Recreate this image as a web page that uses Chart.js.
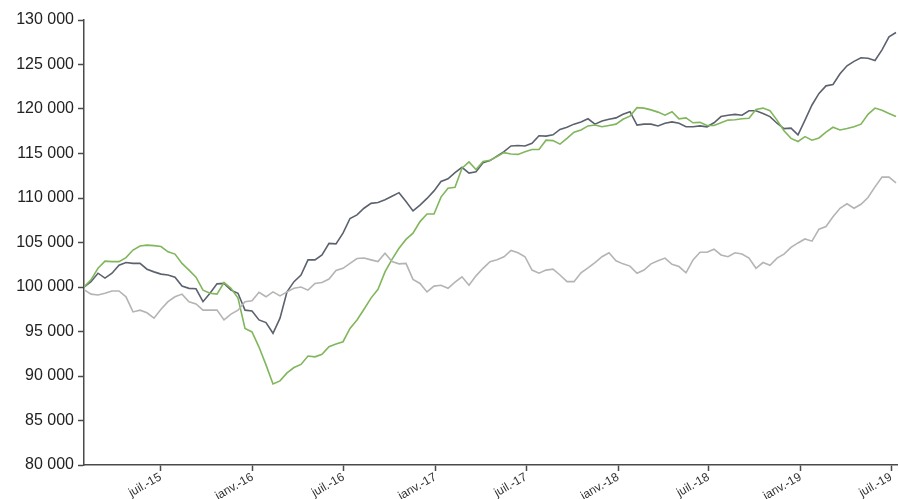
<!DOCTYPE html>
<html>
<head>
<meta charset="utf-8">
<title>Portefeuilles</title>
<script src="https://cdn.jsdelivr.net/npm/chart.js@4.4.1/dist/chart.umd.min.js"></script>
<style>
    html, body { margin: 0; padding: 0; background: #ffffff; }
    #wrap { position: relative; width: 899px; height: 499px; }
</style>
</head>
<body>
<div id="wrap"><canvas id="perfChart"></canvas></div>
<script>
// dates of the samples (every two weeks)
const dates = [
    "2015-01-29", "2015-02-12", "2015-02-26", "2015-03-12", "2015-03-26", "2015-04-09",
    "2015-04-23", "2015-05-07", "2015-05-21", "2015-06-04", "2015-06-18", "2015-07-02",
    "2015-07-16", "2015-07-30", "2015-08-13", "2015-08-27", "2015-09-10", "2015-09-24",
    "2015-10-08", "2015-10-22", "2015-11-05", "2015-11-19", "2015-12-03", "2015-12-17",
    "2015-12-31", "2016-01-14", "2016-01-28", "2016-02-11", "2016-02-25", "2016-03-10",
    "2016-03-24", "2016-04-07", "2016-04-21", "2016-05-05", "2016-05-19", "2016-06-02",
    "2016-06-16", "2016-06-30", "2016-07-14", "2016-07-28", "2016-08-11", "2016-08-25",
    "2016-09-08", "2016-09-22", "2016-10-06", "2016-10-20", "2016-11-03", "2016-11-17",
    "2016-12-01", "2016-12-15", "2016-12-29", "2017-01-12", "2017-01-26", "2017-02-09",
    "2017-02-23", "2017-03-09", "2017-03-23", "2017-04-06", "2017-04-20", "2017-05-04",
    "2017-05-18", "2017-06-01", "2017-06-15", "2017-06-29", "2017-07-13", "2017-07-27",
    "2017-08-10", "2017-08-24", "2017-09-07", "2017-09-21", "2017-10-05", "2017-10-19",
    "2017-11-02", "2017-11-16", "2017-11-30", "2017-12-14", "2017-12-28", "2018-01-11",
    "2018-01-25", "2018-02-08", "2018-02-22", "2018-03-08", "2018-03-22", "2018-04-05",
    "2018-04-19", "2018-05-03", "2018-05-17", "2018-05-31", "2018-06-14", "2018-06-28",
    "2018-07-12", "2018-07-26", "2018-08-09", "2018-08-23", "2018-09-06", "2018-09-20",
    "2018-10-04", "2018-10-18", "2018-11-01", "2018-11-15", "2018-11-29", "2018-12-13",
    "2018-12-27", "2019-01-10", "2019-01-24", "2019-02-07", "2019-02-21", "2019-03-07",
    "2019-03-21", "2019-04-04", "2019-04-18", "2019-05-02", "2019-05-16", "2019-05-30",
    "2019-06-13", "2019-06-27", "2019-07-11"
];

// dark grey line
const serieFonce = [
    100000, 100600, 101550, 101000, 101550, 102450, 102750, 102650, 102650, 102000,
    101700, 101450, 101350, 101100, 100100, 99850, 99800, 98350, 99300, 100350,
    100400, 99650, 99300, 97400, 97300, 96300, 96000, 94800, 96500, 99450,
    100600, 101350, 103050, 103050, 103600, 104900, 104850, 106050, 107700, 108100,
    108850, 109400, 109500, 109800, 110200, 110600, 109600, 108550, 109200, 109950,
    110800, 111850, 112150, 112850, 113450, 112800, 112950, 113950, 114200, 114700,
    115200, 115850, 115900, 115850, 116150, 117000, 116950, 117100, 117700, 117950,
    118300, 118550, 118900, 118300, 118650, 118850, 119000, 119400, 119700, 118200,
    118300, 118300, 118100, 118400, 118550, 118400, 118000, 118000, 118100, 118000,
    118450, 119150, 119300, 119400, 119300, 119800, 119800, 119500, 119150, 118400,
    117800, 117850, 117100, 118750, 120450, 121750, 122600, 122750, 123950, 124850,
    125350, 125750, 125700, 125450, 126650, 128100, 128600
];

// green line
const serieVerte = [
    100000, 100800, 102100, 102900, 102850, 102850, 103300, 104150, 104600, 104700,
    104650, 104550, 103950, 103700, 102650, 101900, 101100, 99650, 99300, 99200,
    100500, 99850, 98750, 95350, 94950, 93250, 91250, 89100, 89450, 90350,
    90950, 91300, 92250, 92150, 92450, 93300, 93600, 93850, 95350, 96300,
    97500, 98750, 99750, 101700, 103100, 104350, 105350, 106050, 107350, 108200,
    108200, 110100, 111100, 111200, 113350, 114050, 113200, 114100, 114250, 114650,
    115100, 114950, 114900, 115200, 115450, 115450, 116500, 116450, 116050, 116700,
    117400, 117650, 118100, 118200, 118000, 118150, 118300, 118850, 119200, 120150,
    120100, 119900, 119650, 119300, 119700, 118900, 119000, 118450, 118500, 118150,
    118150, 118450, 118750, 118800, 118900, 118950, 119950, 120100, 119800, 118750,
    117550, 116700, 116350, 116900, 116500, 116750, 117400, 117950, 117650, 117800,
    118000, 118300, 119400, 120100, 119850, 119500, 119150
];

// light grey line
const serieClaire = [
    99700, 99200, 99100, 99300, 99550, 99550, 98900, 97200, 97400, 97100,
    96500, 97500, 98350, 98900, 99200, 98350, 98100, 97400, 97400, 97400,
    96300, 96950, 97400, 98350, 98450, 99400, 98900, 99450, 99000, 99450,
    99850, 100000, 99650, 100400, 100500, 100900, 101850, 102100, 102650, 103200,
    103250, 103050, 102850, 103800, 102850, 102600, 102650, 100850, 100400, 99450,
    100100, 100200, 99850, 100550, 101150, 100200, 101250, 102100, 102850, 103050,
    103400, 104100, 103850, 103400, 101900, 101550, 101900, 102000, 101350, 100600,
    100600, 101600, 102150, 102750, 103400, 103850, 102950, 102600, 102350, 101550,
    101900, 102600, 102950, 103250, 102550, 102300, 101600, 103050, 103900, 103900,
    104250, 103600, 103400, 103850, 103700, 103250, 102100, 102750, 102450, 103250,
    103700, 104450, 104950, 105400, 105150, 106500, 106800, 107900, 108850, 109350,
    108850, 109300, 110050, 111250, 112350, 112350, 111700
];

// x axis
const tickDates = [
    "2015-07-01", "2016-01-01", "2016-07-01", "2017-01-01", "2017-07-01",
    "2018-01-01", "2018-07-01", "2019-01-01", "2019-07-01"
];
const tickLabels = [
    "juil.-15", "janv.-16", "juil.-16", "janv.-17", "juil.-17",
    "janv.-18", "juil.-18", "janv.-19", "juil.-19"
];
const xStart = "2015-01-29";
const xEnd = "2019-07-13";

// y axis
const yMin = 80000;
const yMax = 130000;
const yStep = 5000;

(function () {
    "use strict";

    var tickTimes = tickDates.map(function (d) { return Date.parse(d); });

    function toPoints(values) {
        return values.map(function (v, i) {
            return { x: Date.parse(dates[i]), y: v };
        });
    }

    function formatNumber(value) {
        return String(value).replace(/\B(?=(\d{3})+(?!\d))/g, " ");
    }

    var axisColor = "#4a4a4a";

    const ctx = document.getElementById("perfChart").getContext("2d");
    var perfChart = new Chart(ctx, {
        type: "line",
        data: {
            datasets: [
                {
                    label: "Claire",
                    data: toPoints(serieClaire),
                    borderColor: "#b4b4b4",
                    borderWidth: 1.6,
                    pointRadius: 0,
                    tension: 0,
                },
                {
                    label: "Verte",
                    data: toPoints(serieVerte),
                    borderColor: "#80b65c",
                    borderWidth: 1.6,
                    pointRadius: 0,
                    tension: 0,
                },
                {
                    label: "Foncée",
                    data: toPoints(serieFonce),
                    borderColor: "#5b626d",
                    borderWidth: 1.6,
                    pointRadius: 0,
                    tension: 0,
                },
            ],
        },
        options: {
            responsive: true,
            maintainAspectRatio: false,
            animation: false,
            layout: {
                padding: { top: 20, right: 2, left: 0, bottom: 0 },
            },
            scales: {
                x: {
                    type: "linear",
                    min: Date.parse(xStart),
                    max: Date.parse(xEnd),
                    afterBuildTicks: function (scale) {
                        scale.ticks = tickTimes.map(function (t) { return { value: t }; });
                    },
                    afterFit: function (scale) {
                        scale.height = 34;
                    },
                    grid: {
                        drawOnChartArea: false,
                        drawTicks: true,
                        tickLength: 6,
                        tickWidth: 1.5,
                        tickColor: axisColor,
                    },
                    border: { color: axisColor, width: 1.5 },
                    ticks: {
                        autoSkip: false,
                        maxRotation: 30,
                        minRotation: 30,
                        padding: -1,
                        color: "#333333",
                        font: { family: "'Liberation Sans', Arial, sans-serif", size: 12 },
                        callback: function (value) {
                            var i = tickTimes.indexOf(value);
                            return i >= 0 ? tickLabels[i] : "";
                        },
                    },
                },
                y: {
                    min: yMin,
                    max: yMax,
                    afterFit: function (scale) {
                        scale.width = 84;
                    },
                    grid: {
                        drawOnChartArea: false,
                        drawTicks: true,
                        tickLength: 6,
                        tickWidth: 1.5,
                        tickColor: axisColor,
                    },
                    border: { color: axisColor, width: 1.5 },
                    ticks: {
                        stepSize: yStep,
                        padding: 4,
                        color: "#222222",
                        font: { family: "'Liberation Sans', Arial, sans-serif", size: 16 },
                        callback: function (value) {
                            return formatNumber(value);
                        },
                    },
                },
            },
            plugins: {
                legend: { display: false },
                tooltip: { enabled: false },
            },
        },
    });
})();
</script>
</body>
</html>
